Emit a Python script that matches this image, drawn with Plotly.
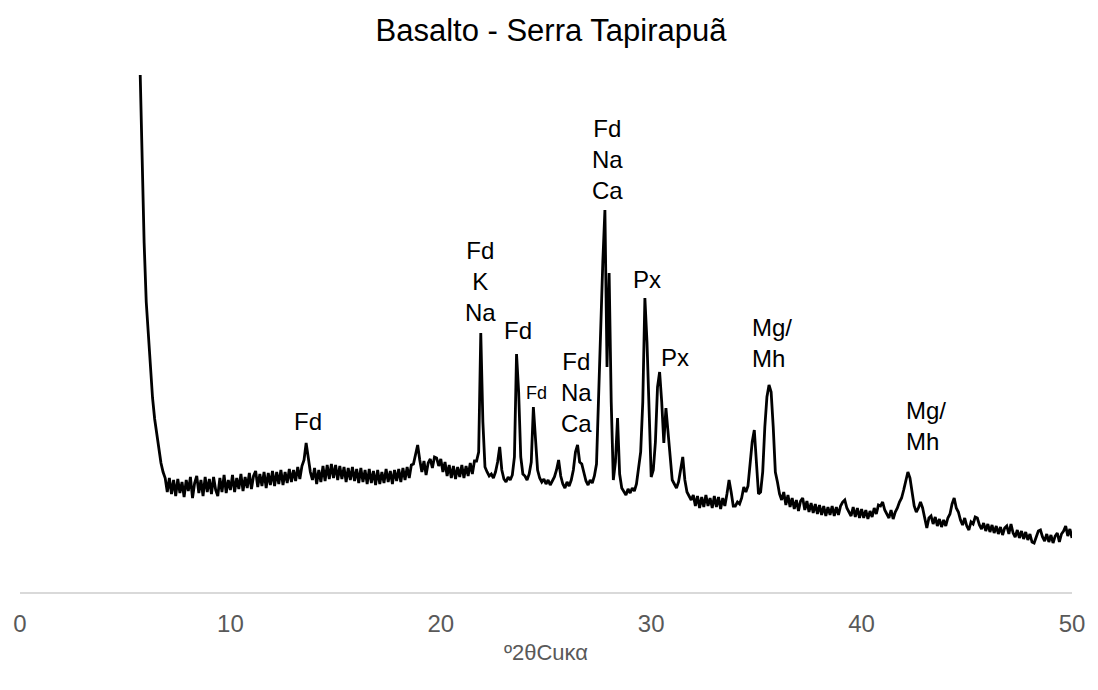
import numpy as np
import plotly.graph_objects as go

# 2theta grid (instrument step 0.1 deg) starting at 5.6
two_theta_start = 5.6
two_theta_step = 0.1

intensity = [
    620, 520, 430, 349,
    290, 257, 226, 194, 173, 157, 142, 129, 120, 114,   # 6
    100, 114, 98, 112, 96, 113, 99, 110, 95, 112,       # 7
    101, 115, 94, 109, 116, 99, 112, 96, 115, 100,      # 8
    113, 98, 115, 102, 96, 114, 100, 117, 99, 112,      # 9
    102, 117, 100, 114, 103, 118, 101, 115, 104, 119,   # 10
    103, 116, 121, 105, 118, 106, 120, 104, 119, 107,   # 11
    121, 106, 120, 108, 122, 107, 120, 109, 123, 110,   # 12
    122, 111, 125, 113, 126, 132, 149, 136, 120, 112,   # 13
    124, 108, 122, 110, 126, 111, 127, 113, 128, 114,   # 14
    127, 112, 126, 113, 125, 110, 124, 112, 125, 111,   # 15
    123, 109, 124, 110, 122, 108, 123, 109, 121, 107,   # 16
    122, 108, 120, 109, 123, 110, 121, 108, 122, 111,   # 17
    123, 110, 124, 112, 125, 114, 127, 128, 138, 147,   # 18
    132, 120, 131, 117, 129, 133, 124, 135, 134, 126,   # 19
    133, 120, 130, 116, 127, 114, 126, 113, 125, 115,   # 20
    127, 114, 126, 116, 129, 118, 131, 131, 140, 259,   # 21
    170, 125, 120, 116, 118, 114, 120, 130, 145, 122,   # 22
    113, 110, 115, 112, 117, 135, 238, 200, 135, 118,   # 23
    116, 112, 118, 130, 185, 150, 122, 114, 110, 113,   # 24
    108, 112, 107, 111, 115, 122, 132, 116, 108, 104,   # 25
    110, 106, 112, 122, 140, 147, 130, 128, 118, 111,   # 26
    107, 112, 109, 116, 128, 200, 280, 330, 382, 225,   # 27
    319, 190, 112, 130, 174, 118, 104, 100, 97, 103,    # 28
    99, 104, 101, 108, 122, 140, 190, 294, 250, 170,    # 29
    115, 122, 150, 205, 220, 190, 149, 184, 160, 129,   # 30
    112, 108, 104, 110, 122, 135, 112, 100, 96, 92,     # 31
    97, 86, 96, 84, 95, 85, 97, 86, 94, 84,             # 32
    96, 85, 95, 83, 94, 86, 98, 112, 100, 86,           # 33
    86, 90, 88, 94, 105, 100, 106, 125, 150, 162,       # 34
    130, 98, 100, 120, 165, 195, 207, 200, 165, 120,    # 35
    110, 98, 92, 100, 87, 97, 85, 94, 83, 92,           # 36
    81, 91, 94, 82, 91, 80, 89, 79, 88, 78,             # 37
    87, 77, 86, 76, 85, 77, 86, 76, 85, 77,             # 38
    86, 90, 92, 84, 80, 76, 85, 75, 84, 74,             # 39
    83, 74, 82, 73, 81, 75, 84, 78, 87, 86,             # 40
    90, 82, 78, 74, 82, 73, 80, 84, 90, 94,             # 41
    102, 112, 120, 114, 100, 86, 80, 84, 90, 84,        # 42
    74, 64, 74, 76, 68, 75, 66, 73, 65, 72,             # 43
    66, 74, 78, 88, 94, 84, 80, 72, 67, 74,             # 44
    66, 62, 70, 68, 75, 74, 67, 63, 69, 61,             # 45
    68, 60, 67, 59, 66, 58, 65, 57, 64, 66,             # 46
    58, 68, 59, 55, 62, 54, 61, 53, 60, 52,             # 47
    58, 50, 49, 56, 61, 62, 55, 51, 58, 50,             # 48
    57, 49, 56, 59, 50, 58, 61, 66, 56, 63,             # 49
    54,                                                 # 50
]

two_theta = np.round(two_theta_start + two_theta_step * np.arange(len(intensity)), 2)

# Peak labels
label_text = ["Fd", "Fd<br>K<br>Na", "Fd", "Fd", "Fd<br>Na<br>Ca", "Fd<br>Na<br>Ca",
              "Px", "Px", "Mg/<br>Mh", "Mg/<br>Mh"]
label_x = [13.67, 21.9, 23.66, 24.54, 26.44, 27.91, 29.8, 31.15, 34.68, 42.0]
label_y = [171, 311, 262, 199, 200, 433, 313, 235, 249, 166]
label_anchor = ["center", "center", "center", "center", "center", "center",
                "center", "center", "left", "left"]
label_size = [24, 24, 24, 18, 24, 24, 24, 24, 24, 24]

x_ticks = [0, 10, 20, 30, 40, 50]

FONT = "Liberation Sans, Arial, Helvetica, sans-serif"

fig = go.Figure()
fig.add_trace(go.Scatter(
    x=two_theta, y=intensity, mode="lines",
    line=dict(color="#000000", width=2.8),
    showlegend=False, hoverinfo="x+y",
))

for t, lx, ly, anc, fs in zip(label_text, label_x, label_y, label_anchor, label_size):
    fig.add_annotation(
        x=lx, y=ly, xref="x", yref="y", text=t, showarrow=False,
        xanchor=anc, yanchor="middle", align=anc,
        font=dict(family=FONT, size=fs, color="#000000"),
    )

fig.update_layout(
    width=1098, height=690,
    paper_bgcolor="white", plot_bgcolor="white",
    margin=dict(l=20, r=26, t=75, b=98),
    title=dict(text="Basalto - Serra Tapirapuã", x=0.5018, xref="container",
               y=1 - 30 / 690, yref="container", xanchor="center", yanchor="middle",
               font=dict(family=FONT, size=31, color="#000000")),
    xaxis=dict(
        range=[0, 50], tickvals=x_ticks, ticktext=[str(v) for v in x_ticks],
        showline=True, linecolor="#d9d9d9", linewidth=2,
        showgrid=False, zeroline=False, ticks="",
        ticklabelstandoff=9,
        tickfont=dict(family=FONT, size=24, color="#595959"),
        title=dict(text="º2θCuκα", standoff=9,
                   font=dict(family=FONT, size=22, color="#595959")),
    ),
    yaxis=dict(range=[0, 517], visible=False, showgrid=False, zeroline=False),
)

fig.write_html("out.html")
